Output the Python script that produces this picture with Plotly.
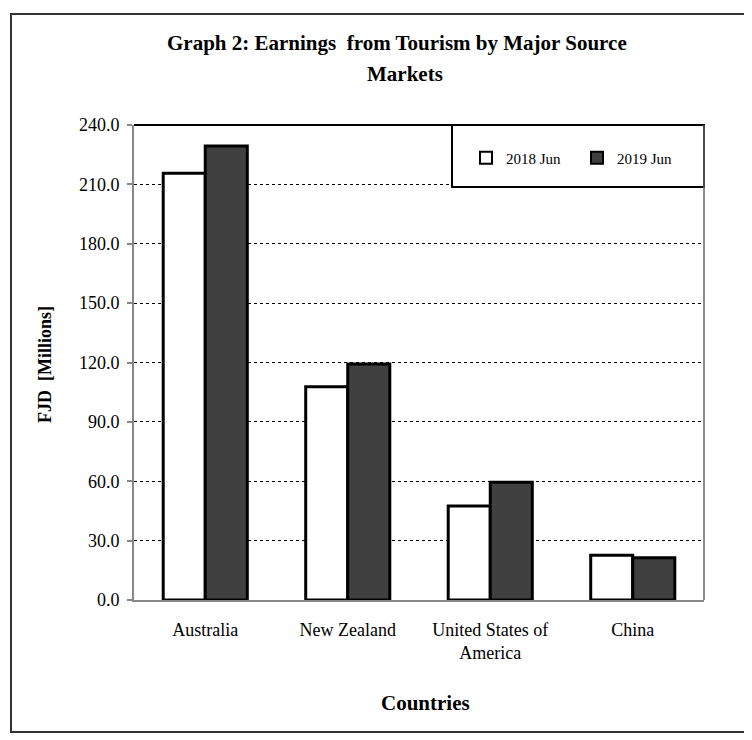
import plotly.graph_objects as go

countries = ["Australia", "New Zealand", "United States of<br>America", "China"]
jun_2018 = [215.6, 107.8, 47.5, 22.6]
jun_2019 = [229.4, 119.2, 59.5, 21.4]
series_names = ["2018 Jun", "2019 Jun"]
y_ticks = [0, 30, 60, 90, 120, 150, 180, 210, 240]

FONT = "Liberation Serif, Times New Roman, serif"

# page offset of the figure inside the browser (body margin)
OFF = 8
# plot-area pixel geometry in page pixels
L, R, T, B = 134, 704, 125, 600
W, H = 752 - OFF, 740 - OFF


def px(x):
    return (x - L) / (R - L)


def py(y):
    return (B - y) / (B - T)


fig = go.Figure()
fig.add_trace(go.Bar(
    x=countries, y=jun_2018, name=series_names[0],
    marker=dict(color="#ffffff", line=dict(color="#000000", width=3)),
))
fig.add_trace(go.Bar(
    x=countries, y=jun_2019, name=series_names[1],
    marker=dict(color="#404040", line=dict(color="#000000", width=3)),
))

fig.update_layout(
    width=W, height=H,
    margin=dict(l=L - OFF, r=W - (R - OFF), t=T - OFF, b=H - (B - OFF)),
    paper_bgcolor="white", plot_bgcolor="white",
    barmode="group", bargap=0.41, bargroupgap=0,
    font=dict(family=FONT, size=18, color="#000000"),
    showlegend=True,
    legend=dict(
        orientation="h", x=px(466), xanchor="left", y=py(158), yanchor="middle",
        bgcolor="rgba(0,0,0,0)", borderwidth=0,
        font=dict(family=FONT, size=15, color="#000000"),
        entrywidth=66, itemsizing="constant",
    ),
    xaxis=dict(
        showline=True, linecolor="#888888", linewidth=2,
        ticks="", showgrid=False, ticklabelstandoff=12,
        tickfont=dict(family=FONT, size=18),
    ),
    yaxis=dict(
        range=[0, 240], tickvals=y_ticks, tickformat=".1f",
        showline=True, linecolor="#888888", linewidth=2,
        ticks="outside", ticklen=5, tickcolor="#888888", tickwidth=2,
        showgrid=True, gridcolor="#000000", griddash="dot", gridwidth=1,
        zeroline=False, ticklabelstandoff=4,
        tickfont=dict(family=FONT, size=18),
    ),
    shapes=[
        # outer chart border
        dict(type="rect", xref="paper", yref="paper",
             x0=px(11), x1=px(750), y0=py(732), y1=py(14),
             line=dict(color="#333333", width=2), fillcolor="rgba(0,0,0,0)"),
        # legend box (covers gridlines)
        dict(type="rect", xref="paper", yref="paper",
             x0=px(452), x1=1, y0=py(187), y1=1,
             line=dict(color="#000000", width=2), fillcolor="white", layer="above"),
        # top border of plot area
        dict(type="line", xref="paper", yref="paper",
             x0=0, x1=1, y0=1, y1=1, line=dict(color="#000000", width=2)),
        # right border of plot area
        dict(type="line", xref="paper", yref="paper",
             x0=1, x1=1, y0=0, y1=1, line=dict(color="#666666", width=1.5)),
    ],
    annotations=[
        dict(text="<b>Graph 2: Earnings  from Tourism by Major Source</b>",
             xref="paper", yref="paper", x=px(397), y=py(43),
             xanchor="center", yanchor="middle", showarrow=False,
             font=dict(family=FONT, size=21, color="#000000")),
        dict(text="<b>Markets</b>",
             xref="paper", yref="paper", x=px(405), y=py(74),
             xanchor="center", yanchor="middle", showarrow=False,
             font=dict(family=FONT, size=21, color="#000000")),
        dict(text="<b>FJD  [Millions]</b>",
             xref="paper", yref="paper", x=px(45), y=py(364),
             xanchor="center", yanchor="middle", showarrow=False, textangle=-90,
             font=dict(family=FONT, size=18, color="#000000")),
        dict(text="<b>Countries</b>",
             xref="paper", yref="paper", x=px(425), y=py(703),
             xanchor="center", yanchor="middle", showarrow=False,
             font=dict(family=FONT, size=21, color="#000000")),
    ],
)

fig.write_html("out.html")
